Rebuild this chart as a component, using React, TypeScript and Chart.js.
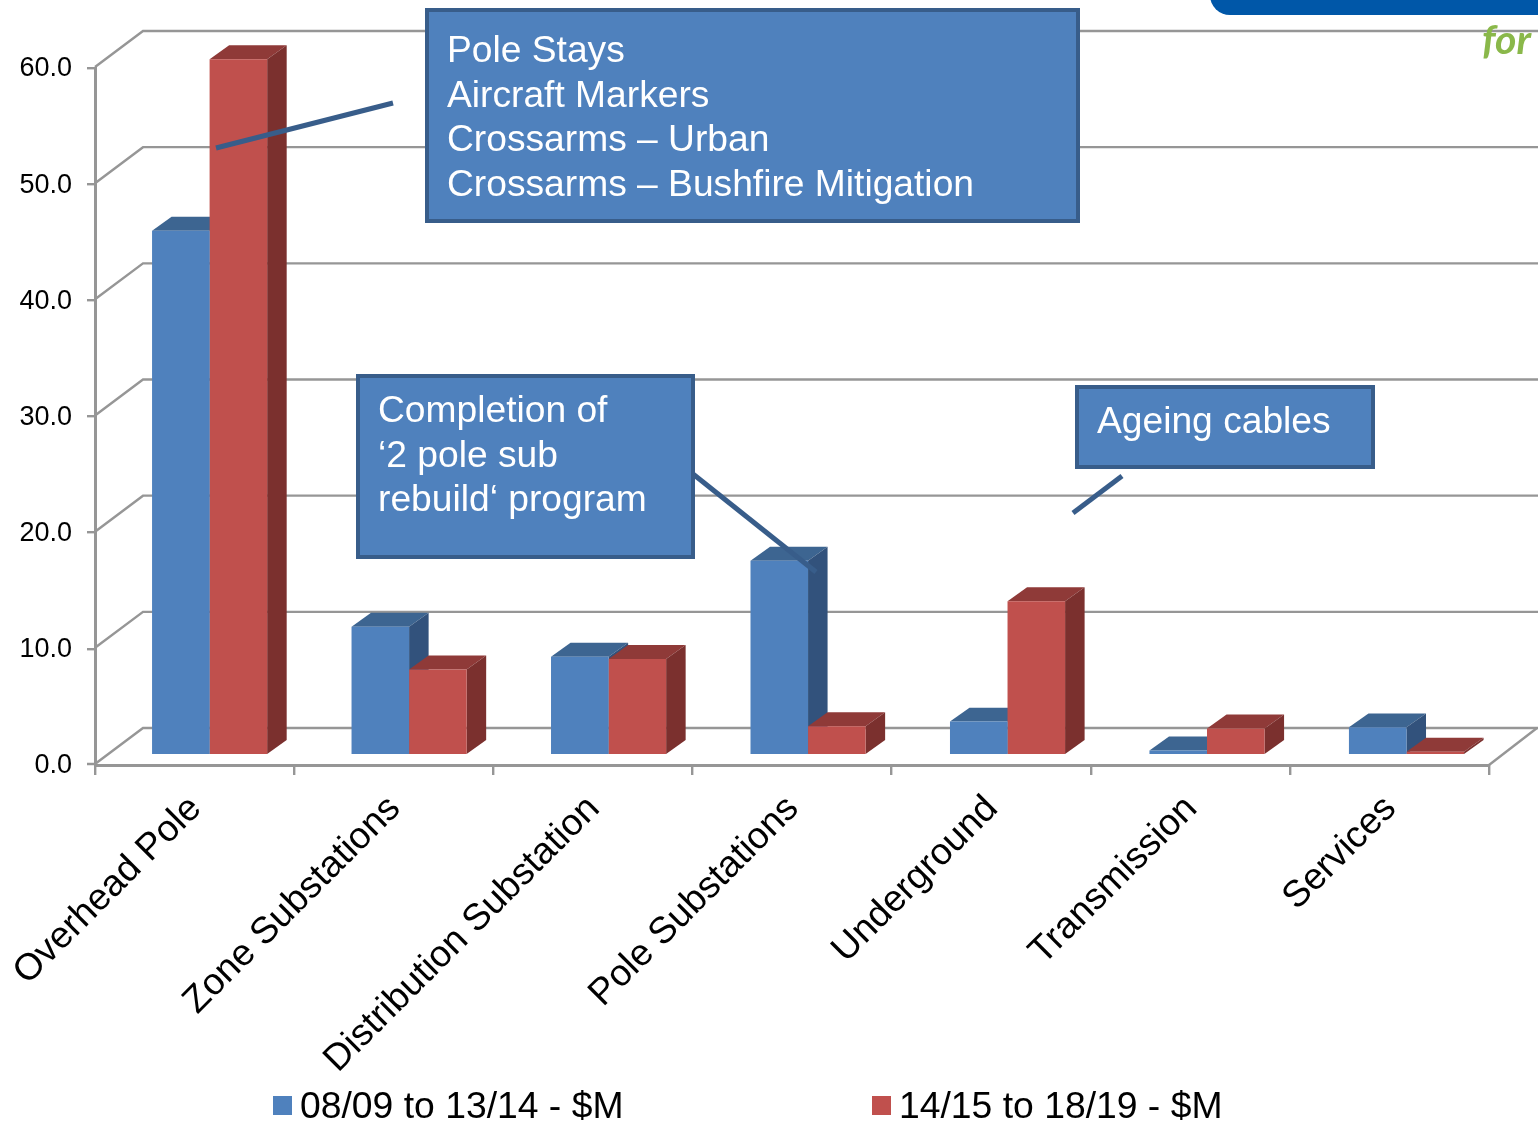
import React, { useEffect, useRef } from "react";
import { Chart, registerables } from "chart.js";

Chart.register(...registerables);

const categories = [
  "Overhead Pole",
  "Zone Substations",
  "Distribution Substation",
  "Pole Substations",
  "Underground",
  "Transmission",
  "Services",
];
const priorPeriod = [45.2, 11.0, 8.4, 16.7, 2.8, 0.3, 2.3];
const nextPeriod = [60.0, 7.3, 8.2, 2.4, 13.2, 2.2, 0.2];
const priorLabel = "08/09 to 13/14 - $M";
const nextLabel = "14/15 to 18/19 - $M";

const poleStaysNote = ["Pole Stays", "Aircraft Markers", "Crossarms – Urban", "Crossarms – Bushfire Mitigation"];
const rebuildNote = ["Completion of", "‘2 pole sub", "rebuild‘ program"];
const cablesNote = ["Ageing cables"];

const FONT = '"Liberation Sans", Arial, sans-serif';
const GREY = "#969696";
const BLUE = { front: "#4f81bd", top: "#3d6591", side: "#32527c" };
const RED = { front: "#c0504d", top: "#8f3a38", side: "#7b302e" };
const WALL_DX = 48;
const WALL_DY = -36;
const TICK_LENGTH = 8;
const GRID_WIDTH = 2.4;
const BAR_LIFT = 11;
const BAR_SCALE_X = 1.0017;
const BAR_SCALE_Y = 0.9967;
const DEPTH_X = 19.5;
const DEPTH_Y = -14;
const LEGEND_SLOTS = [273, 872];

function poly(ctx: CanvasRenderingContext2D, color: string, pts: number[][]) {
  ctx.fillStyle = color;
  ctx.beginPath();
  pts.forEach(([x, y], i) => (i ? ctx.lineTo(x, y) : ctx.moveTo(x, y)));
  ctx.closePath();
  ctx.fill();
}

// Side walls and floor of the 3D plot box.
const wallPlugin = {
  id: "walls",
  beforeDatasetsDraw(chart: any) {
    const { ctx, scales, chartArea } = chart;
    ctx.save();
    ctx.strokeStyle = GREY;
    ctx.lineWidth = GRID_WIDTH;
    for (const tick of scales.y.ticks) {
      const y = scales.y.getPixelForValue(tick.value) - 1;
      ctx.beginPath();
      // The zero tick is stroked here so the bars keep their full height at the baseline.
      ctx.moveTo(chartArea.left - (tick.value === 0 ? TICK_LENGTH : 0), y);
      ctx.lineTo(chartArea.left, y);
      ctx.lineTo(chartArea.left + WALL_DX, y + WALL_DY);
      ctx.lineTo(chart.width, y + WALL_DY);
      ctx.stroke();
    }
    const floor = scales.y.getPixelForValue(0);
    ctx.beginPath();
    ctx.moveTo(chartArea.right, floor);
    ctx.lineTo(chartArea.right + WALL_DX, floor + WALL_DY - 1);
    ctx.stroke();
    ctx.restore();
  },
};

// Bars stand mid-way in the box. Tops and sides are painted first, blue then red,
// and the library lays the flat faces over them.
const extrudePlugin = {
  id: "extrude",
  beforeDatasetsDraw(chart: any) {
    const { ctx, scales } = chart;
    const base = scales.y.getPixelForValue(0);
    ctx.save();
    ctx.translate(14.7, base - BAR_LIFT - BAR_SCALE_Y * base);
    ctx.scale(BAR_SCALE_X, BAR_SCALE_Y);
    [BLUE, RED].forEach((shade, index) => {
      for (const bar of chart.getDatasetMeta(index).data) {
        const p = bar.getProps(["x", "y", "base", "width"], true);
        const l = p.x - p.width / 2;
        const r = p.x + p.width / 2;
        poly(ctx, shade.top, [[l, p.y], [l + DEPTH_X, p.y + DEPTH_Y], [r + DEPTH_X, p.y + DEPTH_Y], [r, p.y]]);
        poly(ctx, shade.side, [[r, p.y], [r + DEPTH_X, p.y + DEPTH_Y], [r + DEPTH_X, p.base + DEPTH_Y], [r, p.base]]);
      }
    });
  },
  afterDatasetsDraw(chart: any) {
    chart.ctx.restore();
  },
};

function drawNote(ctx: CanvasRenderingContext2D, x: number, y: number, w: number, h: number, lines: string[], centres: number[]) {
  ctx.fillStyle = BLUE.front;
  ctx.strokeStyle = "#385d8a";
  ctx.lineWidth = 4;
  ctx.fillRect(x, y, w, h);
  ctx.strokeRect(x, y, w, h);
  ctx.fillStyle = "#ffffff";
  ctx.font = `37.2px ${FONT}`;
  ctx.textAlign = "left";
  ctx.textBaseline = "middle";
  lines.forEach((line, i) => ctx.fillText(line, x + 20, centres[i]));
}

function leader(ctx: CanvasRenderingContext2D, x1: number, y1: number, x2: number, y2: number) {
  ctx.strokeStyle = "#385d8a";
  ctx.lineWidth = 5;
  ctx.beginPath();
  ctx.moveTo(x1, y1);
  ctx.lineTo(x2, y2);
  ctx.stroke();
}

// Legend row, callouts and the corner of the page banner, over everything else.
const overlayPlugin = {
  id: "overlay",
  afterDraw(chart: any) {
    const { ctx } = chart;
    ctx.save();
    leader(ctx, 216, 148, 393, 103);
    leader(ctx, 693, 474, 816, 572);
    leader(ctx, 1122, 476, 1073, 513);
    drawNote(ctx, 427, 10, 651, 211, poleStaysNote, [52, 97, 141, 186]);
    drawNote(ctx, 358, 376, 335, 181, rebuildNote, [412, 457, 501]);
    drawNote(ctx, 1077, 387, 296, 80, cablesNote, [423]);

    chart.data.datasets.forEach((ds: any, i: number) => {
      const x = LEGEND_SLOTS[i];
      ctx.fillStyle = ds.backgroundColor;
      ctx.fillRect(x, 1096, 19, 19);
      ctx.fillStyle = "#000000";
      ctx.font = `37.3px ${FONT}`;
      ctx.textAlign = "left";
      ctx.textBaseline = "middle";
      ctx.fillText(ds.label, x + 27, 1108);
    });

    ctx.fillStyle = "#0057a8";
    ctx.beginPath();
    ctx.roundRect(1210, -30, 360, 45, 20);
    ctx.fill();
    ctx.fillStyle = "#8ab84a";
    ctx.font = "italic bold 41px Lato, sans-serif";
    ctx.textAlign = "left";
    ctx.textBaseline = "alphabetic";
    ctx.fillText("for", 1482, 54);
    ctx.restore();
  },
};

export default function App() {
  const ref = useRef<HTMLCanvasElement>(null);

  useEffect(() => {
    const chart = new Chart(ref.current!, {
      type: "bar",
      data: {
        labels: categories,
        datasets: [
          { label: priorLabel, data: priorPeriod, backgroundColor: BLUE.front, borderWidth: 0, clip: false },
          { label: nextLabel, data: nextPeriod, backgroundColor: RED.front, borderWidth: 0, clip: false },
        ],
      },
      options: {
        responsive: false,
        animation: false,
        devicePixelRatio: 1,
        layout: { padding: { left: 0, right: 49, top: 68, bottom: 0 } },
        datasets: { bar: { barPercentage: 1, categoryPercentage: 0.577 } },
        plugins: {
          tooltip: { enabled: false },
          legend: { display: false },
        },
        scales: {
          x: {
            afterFit: (s: any) => {
              s.height = 359;
            },
            border: { color: GREY, width: 3 },
            grid: { color: GREY, lineWidth: GRID_WIDTH, drawOnChartArea: false, tickLength: 10, offset: true },
            ticks: {
              autoSkip: false,
              minRotation: 45,
              maxRotation: 45,
              padding: 12,
              labelOffset: 1,
              color: "#000000",
              font: { family: FONT, size: 37.2 },
            },
          },
          y: {
            min: 0,
            max: 60,
            afterFit: (s: any) => {
              s.width = 95;
            },
            border: { color: GREY, width: 3 },
            grid: {
              color: GREY,
              lineWidth: (c: any) => (c.tick && c.tick.value === 0 ? 0 : GRID_WIDTH),
              drawOnChartArea: false,
              tickLength: TICK_LENGTH,
            },
            ticks: {
              stepSize: 10,
              padding: 15,
              labelOffset: 1,
              color: "#000000",
              font: { family: FONT, size: 27 },
              callback: (v: any) => Number(v).toFixed(1),
            },
          },
        },
      },
      plugins: [wallPlugin, extrudePlugin, overlayPlugin],
    } as any);
    return () => chart.destroy();
  }, []);

  return <canvas ref={ref} width={1538} height={1124} style={{ position: "absolute", left: 0, top: 0 }} />;
}
